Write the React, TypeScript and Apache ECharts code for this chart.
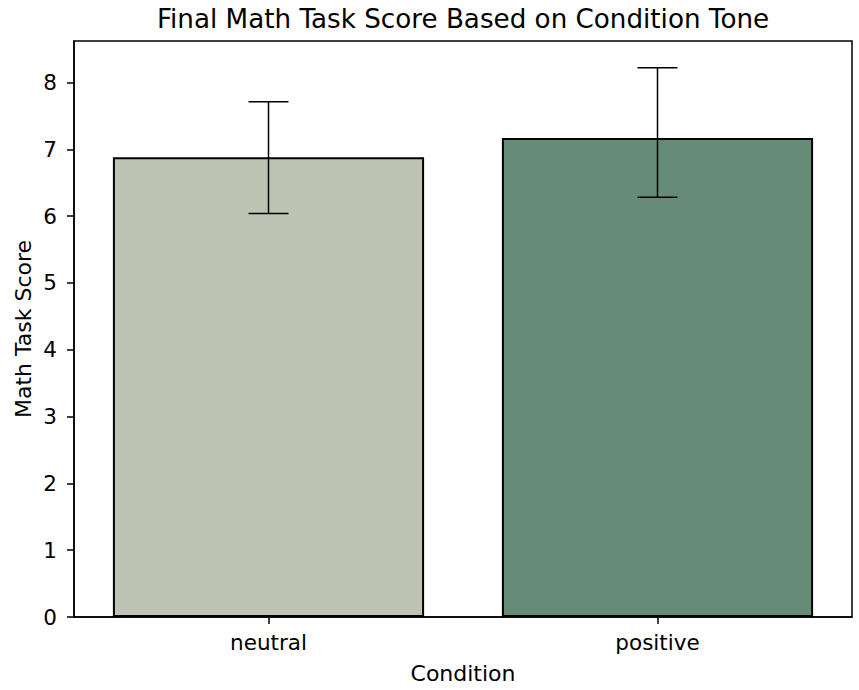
import React, { useEffect, useRef } from "react";
import * as echarts from "echarts";

// Mean final math task score per condition tone, with CI bounds
const conditions = ["neutral", "positive"];
const meanScores = [6.88, 7.17];
const ciLower = [6.04, 6.28];
const ciUpper = [7.71, 8.22];
const barColors = ["#BEC3B3", "#668C78"];
const yTicks = [0, 1, 2, 3, 4, 5, 6, 7, 8];
const yMax = 8.62;

const FONT = "DejaVu Sans";

export default function App() {
  const ref = useRef<HTMLDivElement>(null);

  useEffect(() => {
    if (!ref.current) return;
    const chart = echarts.init(ref.current, undefined, { renderer: "svg" });

    const barData = meanScores.map((v, i) => ({
      value: v,
      itemStyle: { color: barColors[i] },
    }));
    const errData = conditions.map((_, i) => [i, ciLower[i], ciUpper[i]]);

    chart.setOption({
      animation: false,
      backgroundColor: "#ffffff",
      textStyle: { fontFamily: FONT },
      grid: {
        left: 74,
        right: 7,
        top: 41,
        bottom: 73,
        show: true,
        borderColor: "#000000",
        borderWidth: 1.5,
        backgroundColor: "transparent",
      },
      graphic: [
        {
          type: "text",
          x: 463,
          y: 19,
          style: {
            text: "Final Math Task Score Based on Condition Tone",
            font: `26.2px '${FONT}'`,
            fill: "#000000",
            align: "center",
            verticalAlign: "middle",
          },
        },
        {
          type: "text",
          x: 463,
          y: 673,
          style: {
            text: "Condition",
            font: `22px '${FONT}'`,
            fill: "#000000",
            align: "center",
            verticalAlign: "middle",
          },
        },
        {
          type: "text",
          x: 23,
          y: 329,
          rotation: Math.PI / 2,
          style: {
            text: "Math Task Score",
            font: `22px '${FONT}'`,
            fill: "#000000",
            align: "center",
            verticalAlign: "middle",
          },
        },
      ],
      xAxis: {
        type: "category",
        data: conditions,
        boundaryGap: true,
        axisLine: { show: true, lineStyle: { color: "#000000", width: 1.5 } },
        axisTick: {
          show: true,
          alignWithLabel: true,
          length: 7,
          lineStyle: { color: "#000000", width: 1.5 },
        },
        axisLabel: {
          color: "#000000",
          fontSize: 21.5,
          fontFamily: FONT,
          margin: 14,
        },
        splitLine: { show: false },
      },
      yAxis: {
        type: "value",
        min: 0,
        max: yMax,
        axisLine: { show: true, lineStyle: { color: "#000000", width: 1.5 } },
        axisTick: {
          show: true,
          length: 7,
          customValues: yTicks,
          lineStyle: { color: "#000000", width: 1.5 },
        },
        axisLabel: {
          color: "#000000",
          fontSize: 21.5,
          fontFamily: FONT,
          margin: 17,
          customValues: yTicks,
        },
        splitLine: { show: false },
      },
      series: [
        {
          type: "bar",
          data: barData,
          barWidth: "80%",
          itemStyle: { borderColor: "#000000", borderWidth: 2 },
          z: 2,
        },
        {
          type: "custom",
          data: errData,
          z: 3,
          encode: { x: 0, y: [1, 2] },
          renderItem: (params: any, api: any) => {
            const idx = api.value(0);
            const lo = api.coord([idx, api.value(1)]);
            const hi = api.coord([idx, api.value(2)]);
            const half = 20;
            const style = { stroke: "#000000", lineWidth: 1.5 };
            return {
              type: "group",
              children: [
                { type: "line", shape: { x1: hi[0], y1: hi[1], x2: lo[0], y2: lo[1] }, style },
                { type: "line", shape: { x1: hi[0] - half, y1: hi[1], x2: hi[0] + half, y2: hi[1] }, style },
                { type: "line", shape: { x1: lo[0] - half, y1: lo[1], x2: lo[0] + half, y2: lo[1] }, style },
              ],
            };
          },
        },
      ],
    });

    return () => chart.dispose();
  }, []);

  return (
    <div
      ref={ref}
      style={{ position: "absolute", left: 0, top: 0, width: 859, height: 690 }}
    />
  );
}
